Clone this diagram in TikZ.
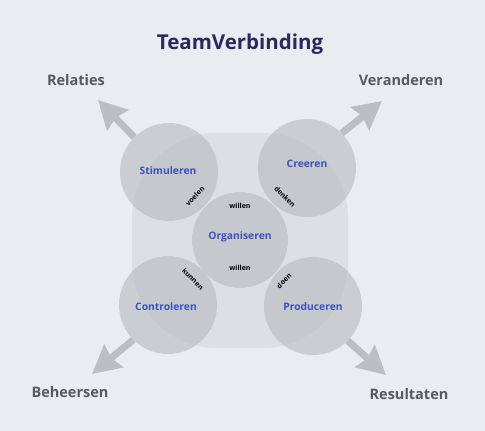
\documentclass[tikz,border=0pt]{standalone}
\usepackage{fontspec}
\setmainfont{Open Sans}
\usetikzlibrary{arrows.meta}
\definecolor{bgc}{HTML}{E9ECF1}
\definecolor{sqc}{HTML}{DCDFE4}
\definecolor{circc}{HTML}{B6B9BE}
\definecolor{arrc}{HTML}{BCBEC3}
\definecolor{titlec}{HTML}{2A2A5C}
\definecolor{labc}{HTML}{575A60}
\definecolor{bluec}{HTML}{3E50C2}
\begin{document}
\begin{tikzpicture}[x=1pt,y=-1pt,
  circ/.style={circle,minimum size=98pt,inner sep=0pt,fill=circc,fill opacity=0.6,text opacity=1},
  lab/.style={font=\bfseries\fontsize{10.3}{12}\selectfont,text=bluec},
  small/.style={font=\bfseries\fontsize{7}{8}\selectfont,text=black,inner sep=0.5pt},
  outer/.style={font=\bfseries\fontsize{14.5}{17}\selectfont,text=labc},
  arr/.style={draw=arrc,line width=7pt,-{Stealth[length=28pt,width=29pt,inset=3pt]}}]
\useasboundingbox (0,0) rectangle (485,431);
\fill[bgc] (0,0) rectangle (485,431);
\fill[sqc,rounded corners=85pt] (132,133) rectangle (348,348);
\node[circ] (stim) at (169,172) {};
\node[circ] (cree) at (307,168) {};
\node[circ] (cont) at (168,305) {};
\node[circ] (prod) at (313,306) {};
\node[circ,minimum size=96pt] (org) at (240,240) {};
% arrow tips
\coordinate (tl) at (98,100);
\coordinate (tr) at (382,101);
\coordinate (bl) at (92,374);
\coordinate (br) at (386,375);
\draw[arr] (stim.135) -- (tl);
\draw[arr] (cree.45) -- (tr);
\draw[arr] (cont.225) -- (bl);
\draw[arr] (prod.-45) -- (br);
\node[lab] (tstim) at (168,171) {Stimuleren};
\node[lab] (tcree) at (307,164) {Creeren};
\node[lab] (torg) at (240,237) {Organiseren};
\node[lab] (tcont) at (166,307) {Controleren};
\node[lab] (tprod) at (313,307) {Produceren};
\node[small,rotate=45] (voelen) at (195,196) {voelen};
\node[small,rotate=-45] (denken) at (285,197) {denken};
\node[small] (w1) at (240,206) {willen};
\node[small] (w2) at (240,268) {willen};
\node[small,rotate=-45] (kunnen) at (193,279) {kunnen};
\node[small,rotate=45] (doen) at (284,281) {doen};
\node[font=\bfseries\fontsize{20.5}{24}\selectfont,text=titlec] (title) at (240,44) {TeamVerbinding};
\node[outer] (rel) at (76,80) {Relaties};
\node[outer] (ver) at (401,80) {Veranderen};
\node[outer] (beh) at (70,392) {Beheersen};
\node[outer] (res) at (409,394) {Resultaten};
\end{tikzpicture}
\end{document}
